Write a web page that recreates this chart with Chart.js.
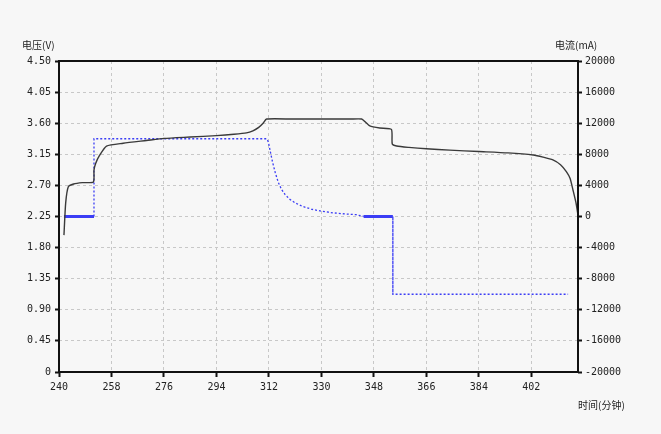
<!DOCTYPE html>
<html>
<head>
<meta charset="utf-8">
<script src="https://cdn.jsdelivr.net/npm/chart.js@4.4.1/dist/chart.umd.min.js"></script>
<style>
  html, body { margin: 0; padding: 0; background: #f7f7f7; }
  #wrap { width: 661px; height: 434px; }
</style>
</head>
<body>
<div id="wrap"><canvas id="chart" width="661" height="434"></canvas></div>
<script>
// Données
const timeTicks = [240, 258, 276, 294, 312, 330, 348, 366, 384, 402];
const voltTicks = [0, 0.45, 0.9, 1.35, 1.8, 2.25, 2.7, 3.15, 3.6, 4.05, 4.5];
const currTicks = [-20000, -16000, -12000, -8000, -4000, 0, 4000, 8000, 12000, 16000, 20000];

// tension (V)
const voltTime = [241.7, 242.3, 243.2, 245, 248, 251.8, 252, 252.6, 254, 256.3, 262, 270, 276, 285, 294, 300, 304.3, 306.5, 308.5, 310, 311.2, 320, 330, 340, 343.8, 345, 346.6, 350, 354, 354.3, 355.8, 360, 366, 374, 384, 394, 402.6, 406, 409.4, 412, 414, 415.3, 416.3, 417.3, 418];
const voltValues = [1.98, 2.45, 2.68, 2.72, 2.74, 2.75, 2.92, 3.02, 3.14, 3.27, 3.31, 3.35, 3.38, 3.40, 3.42, 3.44, 3.46, 3.49, 3.54, 3.60, 3.66, 3.66, 3.66, 3.66, 3.66, 3.62, 3.56, 3.53, 3.51, 3.30, 3.27, 3.25, 3.23, 3.21, 3.19, 3.17, 3.14, 3.11, 3.07, 3.00, 2.90, 2.80, 2.63, 2.45, 2.27];

// courant (mA)
const currTime = [241.7, 252, 252, 311.2, 311.8, 312.5, 313.3, 314.2, 315.2, 316.3, 317.5, 319, 321, 323.5, 326.5, 330, 334, 338, 342, 344.5, 354.5, 354.5, 414.6];
const currValues = [0, 0, 10000, 10000, 9600, 8300, 6900, 5600, 4400, 3500, 2850, 2250, 1750, 1300, 950, 680, 470, 330, 230, 0, 0, -10000, -10000];

const BG = '#f7f7f7';
const TICK_FONT = { family: 'DejaVu Sans Mono', size: 10 };

const voltData = voltTime.map((t, i) => ({ x: t, y: voltValues[i] }));
const currData = currTime.map((t, i) => ({ x: t, y: currValues[i] }));

// segment au repos (courant nul) : trait plein épais
const isRest = ctx => ctx.p0.parsed.y === 0 && ctx.p1.parsed.y === 0;

const decorPlugin = {
    id: 'decor',
    beforeDraw(chart) {
        const c = chart.ctx;
        c.save();
        c.fillStyle = BG;
        c.fillRect(0, 0, chart.width, chart.height);
        c.restore();
    },
    afterDatasetsDraw(chart) {
        const c = chart.ctx;
        const a = chart.chartArea;
        c.save();
        c.strokeStyle = '#111';
        c.lineWidth = 2;
        c.strokeRect(a.left, a.top, a.right - a.left, a.bottom - a.top);
        c.fillStyle = '#222';
        c.font = '10px "Noto Sans CJK SC"';
        c.textBaseline = 'middle';
        c.textAlign = 'left';
        c.fillText('电压(V)', 22, 45);
        c.fillText('电流(mA)', 555, 45);
        c.fillText('时间(分钟)', 578, 405);
        c.restore();
    }
};

function setTicks(values) {
    return function(scale) {
        scale.ticks = values.map(v => ({ value: v }));
    };
}

const gridOpts = {
    color: '#c8c8c8',
    tickColor: '#111',
    tickWidth: 2,
    tickBorderDash: []
};

new Chart(document.getElementById('chart'), {
    type: 'line',
    data: {
        datasets: [
            {
                label: '电压',
                data: voltData,
                yAxisID: 'y',
                borderColor: '#3a3a3a',
                borderWidth: 1.4,
                pointRadius: 0,
                tension: 0.2,
                fill: false
            },
            {
                label: '电流',
                data: currData,
                yAxisID: 'y1',
                borderColor: '#3b3df5',
                borderWidth: 1.3,
                pointRadius: 0,
                tension: 0,
                fill: false,
                segment: {
                    borderDash: ctx => isRest(ctx) ? [] : [2, 2],
                    borderWidth: ctx => isRest(ctx) ? 3 : 1.3
                }
            }
        ]
    },
    options: {
        responsive: false,
        animation: false,
        layout: { padding: { left: 0, right: 0, top: 61, bottom: 32 } },
        plugins: {
            legend: { display: false },
            tooltip: { enabled: false }
        },
        scales: {
            x: {
                type: 'linear',
                min: 240,
                max: 418,
                afterBuildTicks: setTicks(timeTicks),
                afterFit: s => { s.height = 30; },
                border: { display: false, dash: [3, 3] },
                grid: Object.assign({ tickLength: 5 }, gridOpts),
                ticks: {
                    color: '#222',
                    font: TICK_FONT,
                    maxRotation: 0,
                    padding: 4,
                    callback: v => String(v)
                }
            },
            y: {
                type: 'linear',
                position: 'left',
                min: 0,
                max: 4.5,
                afterBuildTicks: setTicks(voltTicks),
                afterFit: s => { s.width = 59; },
                border: { display: false, dash: [3, 3] },
                grid: Object.assign({ tickLength: 4 }, gridOpts),
                ticks: {
                    color: '#222',
                    font: TICK_FONT,
                    padding: 4,
                    callback: v => v === 0 ? '0' : v.toFixed(2)
                }
            },
            y1: {
                type: 'linear',
                position: 'right',
                min: -20000,
                max: 20000,
                afterBuildTicks: setTicks(currTicks),
                afterFit: s => { s.width = 83; },
                border: { display: false },
                grid: {
                    drawOnChartArea: false,
                    tickColor: '#111',
                    tickLength: 4,
                    tickWidth: 2
                },
                ticks: {
                    color: '#222',
                    font: TICK_FONT,
                    padding: 3,
                    callback: v => String(v)
                }
            }
        }
    },
    plugins: [decorPlugin]
});
</script>
</body>
</html>
